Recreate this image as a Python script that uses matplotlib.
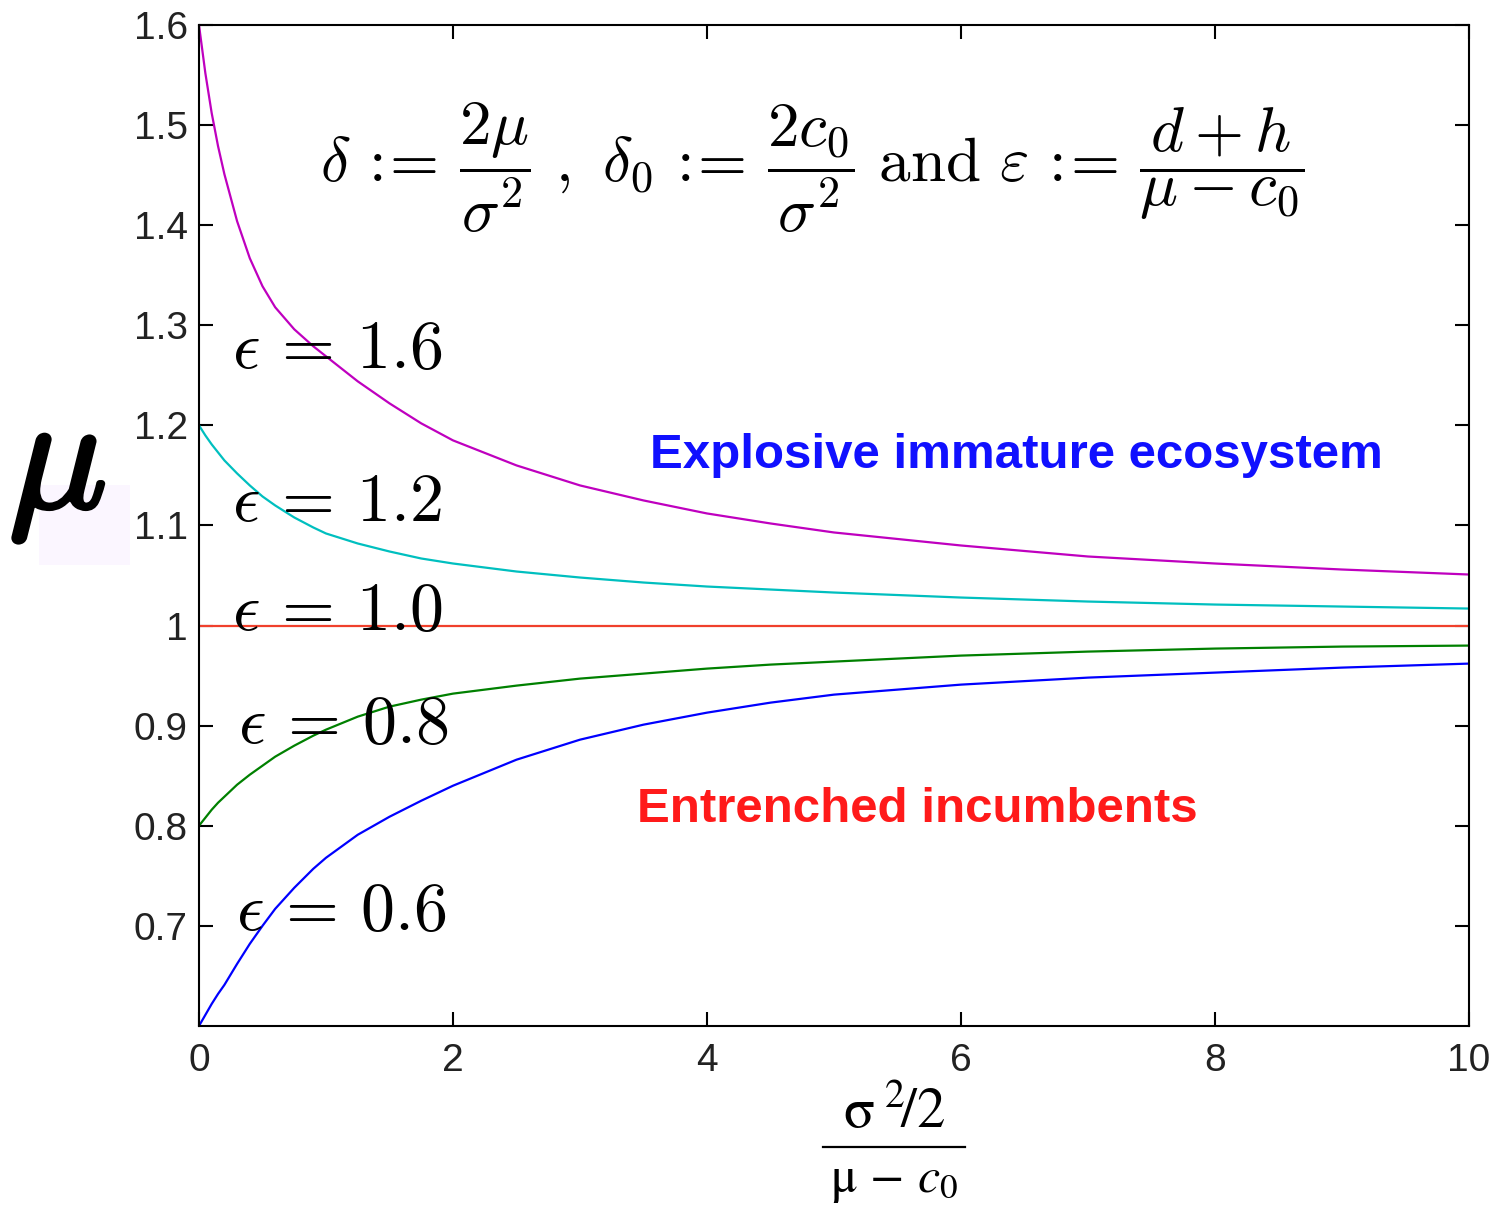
import matplotlib
matplotlib.use("Agg")
import matplotlib.pyplot as plt
import matplotlib.patheffects as pe
from matplotlib.patches import Rectangle
from matplotlib.lines import Line2D

plt.rcParams["mathtext.fontset"] = "cm"
plt.rcParams["font.family"] = ["Liberation Sans", "DejaVu Sans"]

# sample points along each curve, mu versus (sigma^2/2)/(mu - c0)
x_vals = [0, 0.05, 0.1, 0.15, 0.2, 0.3, 0.4, 0.5, 0.6, 0.75, 0.9, 1.0, 1.25, 1.5, 1.75,
          2.0, 2.5, 3.0, 3.5, 4.0, 4.5, 5.0, 6.0, 7.0, 8.0, 9.0, 10.0]
mu_eps_16 = [1.600, 1.552, 1.512, 1.479, 1.451, 1.404, 1.367, 1.339, 1.318, 1.296, 1.279,
             1.269, 1.244, 1.222, 1.202, 1.185, 1.160, 1.140, 1.125, 1.112, 1.102, 1.093,
             1.080, 1.069, 1.062, 1.056, 1.051]
mu_eps_12 = [1.200, 1.190, 1.181, 1.173, 1.165, 1.152, 1.140, 1.129, 1.120, 1.108, 1.098,
             1.092, 1.082, 1.074, 1.067, 1.062, 1.054, 1.048, 1.043, 1.039, 1.036, 1.033,
             1.028, 1.024, 1.021, 1.019, 1.017]
mu_eps_10 = [1.0] * len(x_vals)
mu_eps_08 = [0.800, 0.808, 0.816, 0.823, 0.829, 0.841, 0.851, 0.860, 0.869, 0.880, 0.890,
             0.896, 0.909, 0.919, 0.926, 0.932, 0.940, 0.947, 0.952, 0.957, 0.961, 0.964,
             0.970, 0.974, 0.977, 0.979, 0.980]
mu_eps_06 = [0.600, 0.611, 0.622, 0.632, 0.641, 0.662, 0.682, 0.700, 0.717, 0.738, 0.757,
             0.768, 0.791, 0.809, 0.825, 0.840, 0.866, 0.886, 0.901, 0.913, 0.923, 0.931,
             0.941, 0.948, 0.953, 0.958, 0.962]

eps_labels = ["1.6", "1.2", "1.0", "0.8", "0.6"]
label_pos = [(0.26, 1.275), (0.26, 1.122), (0.26, 1.014), (0.31, 0.901), (0.29, 0.714)]

x_ticks = [0, 2, 4, 6, 8, 10]
y_ticks = [0.7, 0.8, 0.9, 1.0, 1.1, 1.2, 1.3, 1.4, 1.5, 1.6]
y_ticklabels = ["0.7", "0.8", "0.9", "1", "1.1", "1.2", "1.3", "1.4", "1.5", "1.6"]

fig = plt.figure(figsize=(14.95, 12.07), dpi=100)
ax = fig.add_axes([0.1331, 0.1500, 0.8495, 0.8293])

lw = 1.6
ax.plot(x_vals, mu_eps_16, color=(0.75, 0.0, 0.75), lw=lw)
ax.plot(x_vals, mu_eps_12, color=(0.0, 0.75, 0.75), lw=lw)
ax.plot(x_vals, mu_eps_10, color="#f0402c", lw=lw)
ax.plot(x_vals, mu_eps_08, color=(0.0, 0.5, 0.0), lw=lw)
ax.plot(x_vals, mu_eps_06, color=(0.0, 0.0, 1.0), lw=lw)

ax.set_xlim(0, 10)
ax.set_ylim(0.6, 1.6)
ax.set_xticks(x_ticks)
ax.set_yticks(y_ticks)
ax.set_yticklabels(y_ticklabels)
ax.tick_params(direction="in", length=10, width=1.5, top=True, right=True,
               labelsize=28, labelcolor="#222222")
ax.tick_params(axis="x", pad=12)
ax.tick_params(axis="y", pad=8)
for sp in ax.spines.values():
    sp.set_linewidth(1.5)

# epsilon labels next to each curve
for lab, (lx, ly) in zip(eps_labels, label_pos):
    ax.text(lx, ly, r"$\epsilon\,=\,%s$" % lab, fontsize=49, ha="left", va="center")

# definitions at the top
defeq = r"\,:\!\!=\,"
ax.text(4.83, 1.457,
        r"$\delta %s \dfrac{2\mu}{\sigma^2}\ ,\ \delta_0 %s \dfrac{2c_0}{\sigma^2}"
        r"\ \mathrm{and}\ \varepsilon %s \dfrac{d+h}{\mu-c_0}$" % (defeq, defeq, defeq),
        fontsize=45.5, ha="center", va="center")

ax.text(3.55, 1.1577, "Explosive immature ecosystem", fontsize=35.5, fontweight="bold",
        color="#1010ff", ha="left", va="baseline")
ax.text(3.45, 0.804, "Entrenched incumbents", fontsize=35.5, fontweight="bold",
        color="#ff1a1a", ha="left", va="baseline")

# y label: big bold mu with a faint patch behind it
fig.patches.append(Rectangle((39 / 1495, 1 - 565 / 1207), 91 / 1495, 80 / 1207,
                             transform=fig.transFigure, facecolor="#fbf6ff",
                             edgecolor="none", zorder=0))
fig.text(57 / 1495, 1 - 470 / 1207, r"$\mu$", fontsize=118, ha="center", va="center",
         path_effects=[pe.withStroke(linewidth=3, foreground="black")])

# x label drawn as a stacked fraction
cx = 894 / 1495
fig.text(cx, 1 - 1113 / 1207, r"$\mathrm{\sigma}^{\,\,2}\!/2$", math_fontfamily="stix",
         fontsize=41, ha="center", va="center")
fig.lines.append(Line2D([823 / 1495, 965 / 1495], [1 - 1147 / 1207] * 2,
                        transform=fig.transFigure, color="black", lw=1.6))
fig.text(cx, 1 - 1182 / 1207, r"$\mathrm{\mu}\,-\,c_0$", math_fontfamily="stix",
         fontsize=36, ha="center", va="center")

fig.savefig("out.png", dpi=100)
